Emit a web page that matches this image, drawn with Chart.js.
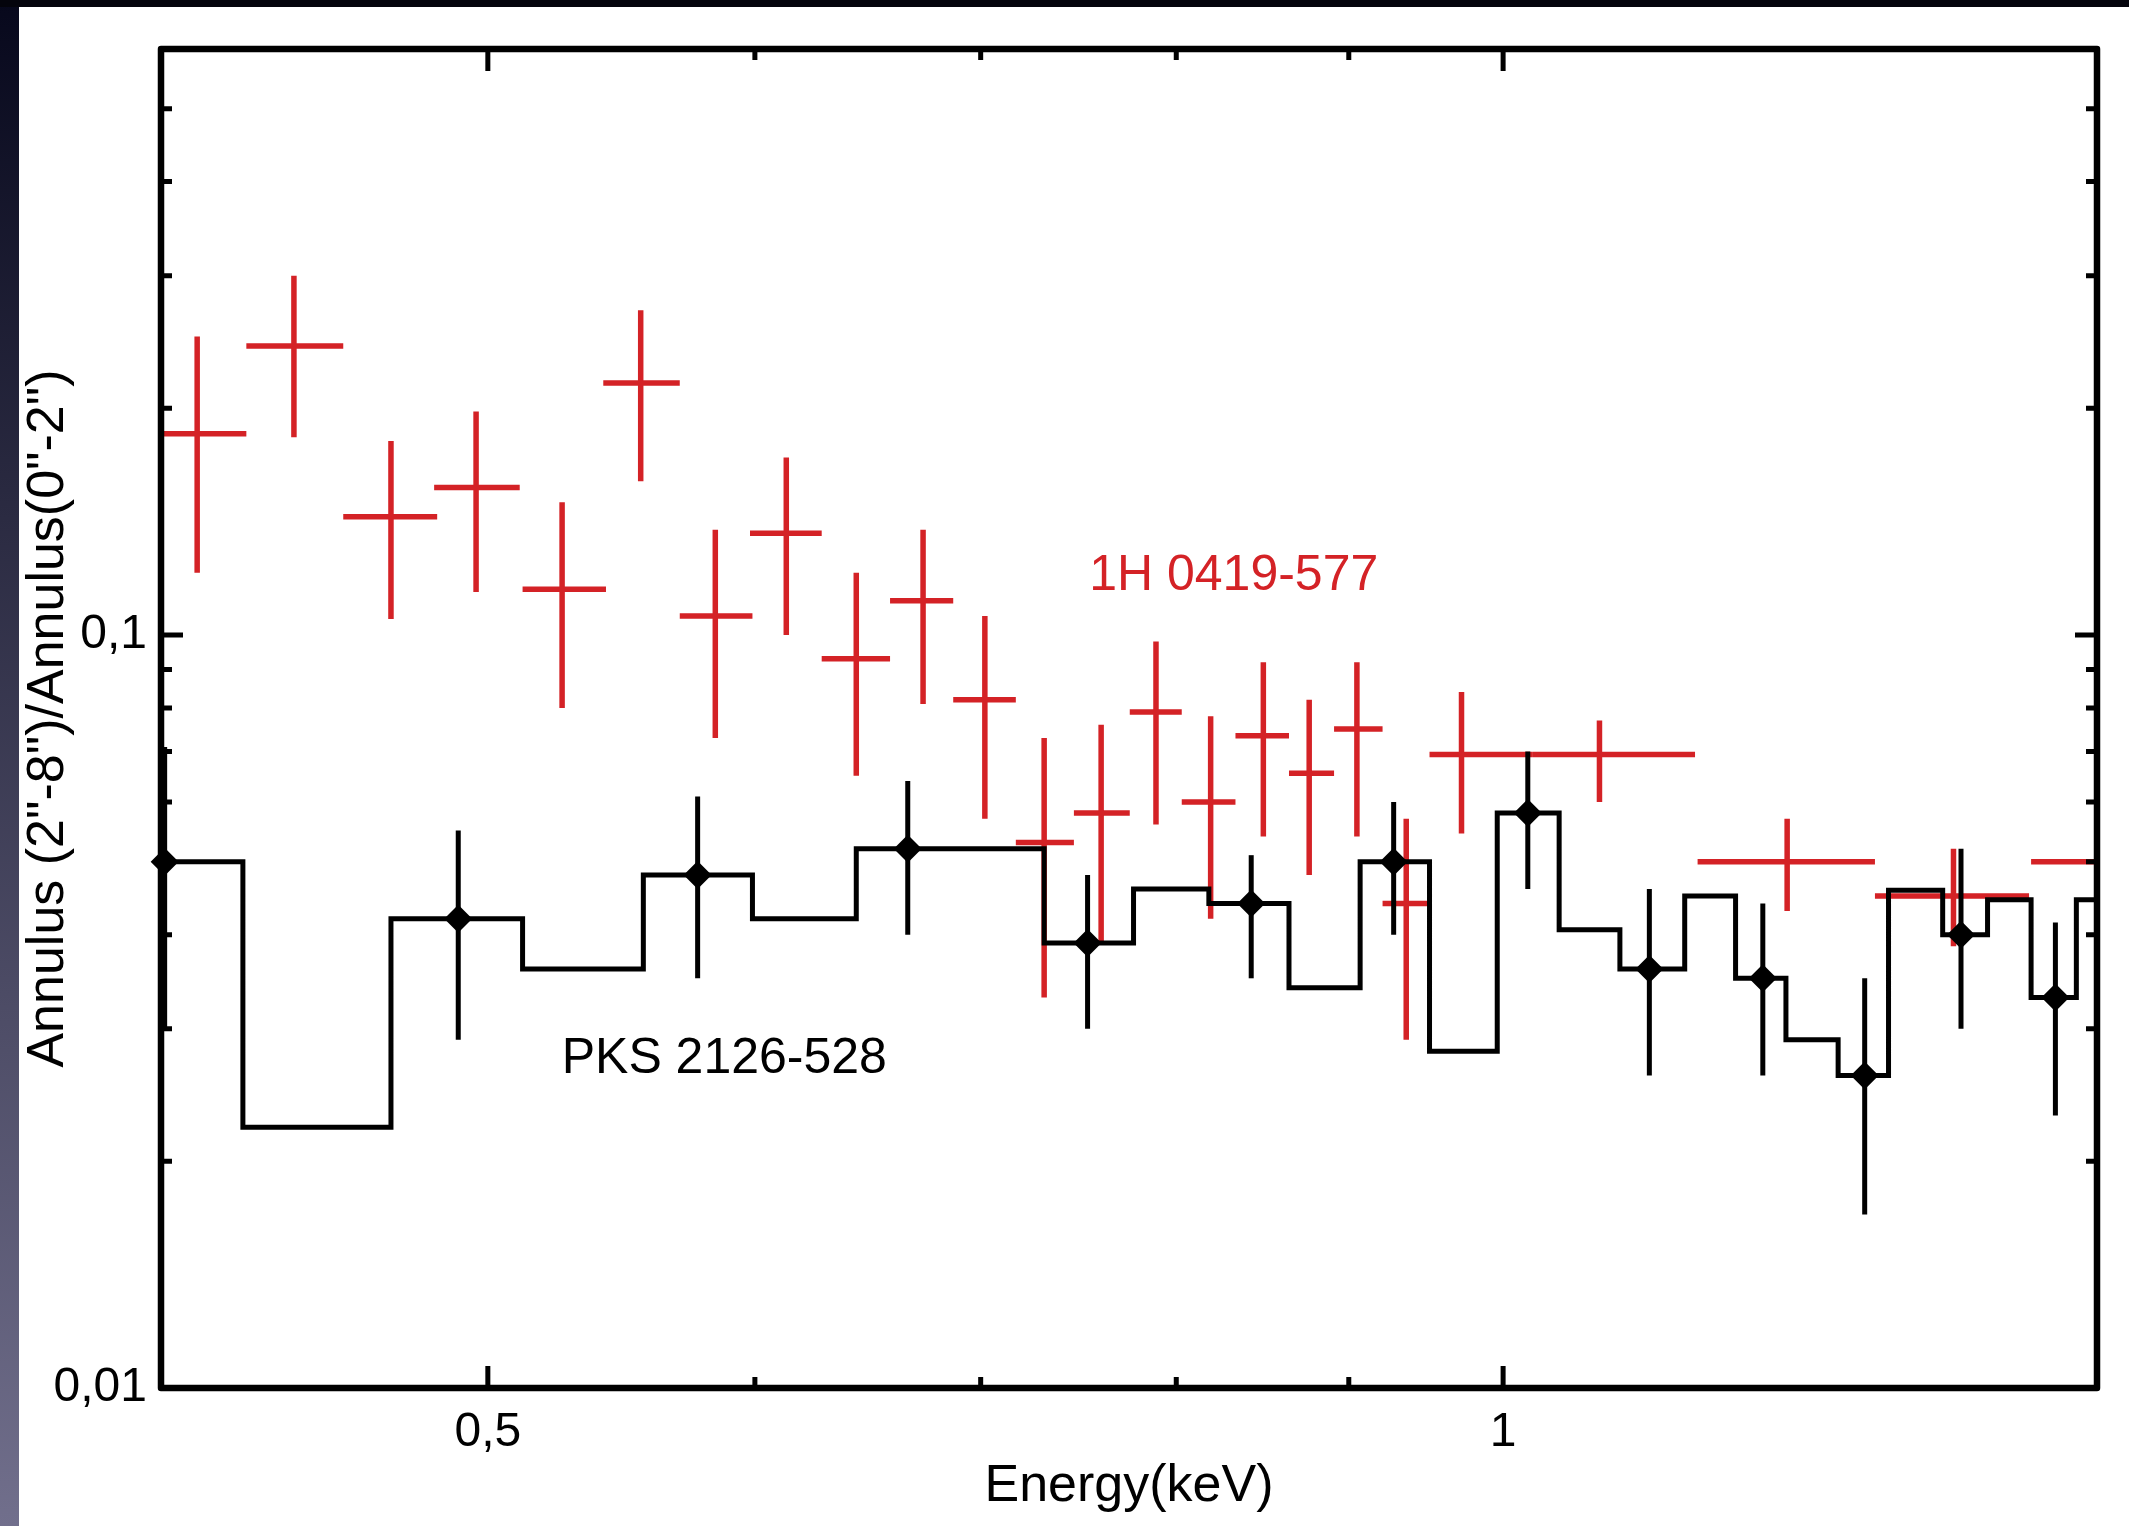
<!DOCTYPE html>
<html>
<head>
<meta charset="utf-8">
<title>Annulus ratio vs energy</title>
<script src="https://cdn.jsdelivr.net/npm/chart.js@4.4.1/dist/chart.umd.min.js"></script>
<style>
  html, body { margin: 0; padding: 0; background: #000; overflow: hidden; }
  #wrap { width: 2129px; height: 1526px; position: relative; }
</style>
</head>
<body>
<div id="wrap"><canvas id="ratioChart"></canvas></div>
<script>
// ---- 1H 0419-577 (red crosses): energy bin centre / edges, ratio and its error range
const redEnergy = [0.410, 0.438, 0.468, 0.496, 0.526, 0.555, 0.584, 0.613, 0.643, 0.673, 0.702, 0.731,
                   0.760, 0.789, 0.819, 0.849, 0.876, 0.905, 0.936, 0.972, 1.068, 1.214, 1.360, 1.510];
const redELo   = [0.400, 0.424, 0.453, 0.482, 0.512, 0.541, 0.570, 0.598, 0.628, 0.658, 0.687, 0.717,
                   0.746, 0.775, 0.803, 0.833, 0.864, 0.891, 0.921, 0.951, 1.020, 1.142, 1.289, 1.434];
const redEHi   = [0.424, 0.453, 0.483, 0.511, 0.542, 0.570, 0.599, 0.628, 0.658, 0.687, 0.717, 0.746,
                   0.775, 0.803, 0.833, 0.864, 0.891, 0.921, 0.951, 1.020, 1.140, 1.289, 1.432, 1.600];
const redRatio = [0.185, 0.242, 0.1435, 0.157, 0.115, 0.216, 0.106, 0.1365, 0.093, 0.111, 0.082, 0.053,
                  0.058, 0.079, 0.060, 0.0735, 0.0655, 0.075, 0.044, 0.0694, 0.0694, 0.050, 0.045, 0.050];
const redLo    = [0.121, 0.183, 0.105, 0.114, 0.080, 0.160, 0.073, 0.100, 0.065, 0.081, 0.057, 0.033,
                  0.039, 0.056, 0.042, 0.054, 0.048, 0.054, 0.029, 0.0545, 0.060, 0.043, 0.0386, 0.043];
const redHi    = [0.249, 0.300, 0.181, 0.198, 0.150, 0.270, 0.138, 0.172, 0.121, 0.138, 0.106, 0.073,
                  0.076, 0.098, 0.078, 0.092, 0.082, 0.092, 0.057, 0.084, 0.077, 0.057, 0.052, 0.057];

// ---- PKS 2126-528 (black diamonds)
const blackEnergy = [0.401, 0.490, 0.577, 0.666, 0.753, 0.842, 0.928, 1.017, 1.105, 1.194, 1.280, 1.367, 1.458];
const blackRatio  = [0.050, 0.042, 0.048, 0.052, 0.039, 0.044, 0.050, 0.058, 0.036, 0.035, 0.026, 0.040, 0.033];
const blackLo     = [0.030, 0.029, 0.035, 0.040, 0.030, 0.035, 0.040, 0.046, 0.026, 0.026, 0.017, 0.030, 0.023];
const blackHi     = [0.071, 0.055, 0.061, 0.064, 0.048, 0.051, 0.060, 0.070, 0.046, 0.044, 0.035, 0.052, 0.0415];

// ---- black histogram (bin edges, one value per bin)
const stepEdges  = [0.400, 0.423, 0.468, 0.512, 0.556, 0.599, 0.643, 0.731, 0.777, 0.818, 0.864, 0.907, 0.951,
                    0.996, 1.039, 1.083, 1.132, 1.172, 1.213, 1.257, 1.301, 1.350, 1.392, 1.434, 1.479, 1.500];
const stepValues = [0.050, 0.0222, 0.042, 0.036, 0.048, 0.042, 0.052, 0.039, 0.046, 0.044, 0.034, 0.050,
                    0.028, 0.058, 0.0406, 0.036, 0.045, 0.035, 0.029, 0.026, 0.0458, 0.040, 0.0445, 0.033, 0.0445];

// ---- axes
const xTickValues = [0.5, 1];
const xTickLabels = ['0,5', '1'];
const xMinorTicks = [0.6, 0.7, 0.8, 0.9];
const yTickValues = [0.01, 0.1];
const yTickLabels = ['0,01', '0,1'];
const yMinorTicks = [0.02, 0.03, 0.04, 0.05, 0.06, 0.07, 0.08, 0.09, 0.2, 0.3, 0.4, 0.5];

const RED = 'rgb(212, 34, 38)';
const FONT = '"Liberation Sans", Arial, Helvetica, sans-serif';

const stepData = stepValues.map((v, i) => ({ x: stepEdges[i], y: v }));
stepData.push({ x: stepEdges[stepEdges.length - 1], y: stepValues[stepValues.length - 1] });

// slide background: black band on top, bluish strip on the left, white page
const slideBg = {
  id: 'slideBg',
  beforeDraw(chart) {
    const { ctx, width, height } = chart;
    ctx.save();
    ctx.fillStyle = '#fff';
    ctx.fillRect(0, 0, width, height);
    const g = ctx.createLinearGradient(0, 0, 0, height);
    g.addColorStop(0, '#07081c');
    g.addColorStop(1, '#716f8c');
    ctx.fillStyle = g;
    ctx.fillRect(0, 0, 19, height);
    ctx.fillStyle = '#04040c';
    ctx.fillRect(0, 0, width, 7);
    ctx.restore();
  }
};

// error bars
const errorBars = {
  id: 'errorBars',
  beforeDatasetsDraw(chart) {
    const { ctx, chartArea: a, scales: { x, y } } = chart;
    ctx.save();
    ctx.beginPath();
    ctx.rect(a.left, a.top, a.width, a.height);
    ctx.clip();
    ctx.strokeStyle = RED;
    ctx.lineWidth = 5.5;
    ctx.lineCap = 'butt';
    redEnergy.forEach((e, i) => {
      const px = x.getPixelForValue(e);
      const py = y.getPixelForValue(redRatio[i]);
      ctx.beginPath();
      ctx.moveTo(x.getPixelForValue(redELo[i]), py);
      ctx.lineTo(x.getPixelForValue(redEHi[i]), py);
      ctx.moveTo(px, y.getPixelForValue(redLo[i]));
      ctx.lineTo(px, y.getPixelForValue(redHi[i]));
      ctx.stroke();
    });
    ctx.restore();
  },
  afterDatasetsDraw(chart) {
    const { ctx, scales: { x, y } } = chart;
    ctx.save();
    ctx.strokeStyle = '#000';
    ctx.lineWidth = 5;
    blackEnergy.forEach((e, i) => {
      const px = x.getPixelForValue(e);
      ctx.beginPath();
      ctx.moveTo(px, y.getPixelForValue(blackLo[i]));
      ctx.lineTo(px, y.getPixelForValue(blackHi[i]));
      ctx.stroke();
    });
    ctx.restore();
  }
};

// box frame with inward ticks on all four sides, plus the source labels
const frameTicks = {
  id: 'frameTicks',
  afterDraw(chart) {
    const { ctx, chartArea: a, scales: { x, y } } = chart;
    ctx.save();
    ctx.strokeStyle = '#000';
    ctx.lineWidth = 5;
    const xt = (vals, len) => vals.forEach(v => {
      const p = x.getPixelForValue(v);
      ctx.beginPath();
      ctx.moveTo(p, a.bottom); ctx.lineTo(p, a.bottom - len);
      ctx.moveTo(p, a.top); ctx.lineTo(p, a.top + len);
      ctx.stroke();
    });
    const yt = (vals, len) => vals.forEach(v => {
      const p = y.getPixelForValue(v);
      ctx.beginPath();
      ctx.moveTo(a.left, p); ctx.lineTo(a.left + len, p);
      ctx.moveTo(a.right, p); ctx.lineTo(a.right - len, p);
      ctx.stroke();
    });
    xt(xTickValues, 22); xt(xMinorTicks, 11);
    yt(yTickValues, 22); yt(yMinorTicks, 11);
    ctx.lineWidth = 6.5;
    ctx.lineJoin = 'round';
    ctx.strokeRect(a.left, a.top, a.width, a.height);

    ctx.font = '50px ' + FONT;
    ctx.textAlign = 'center';
    ctx.textBaseline = 'middle';
    ctx.fillStyle = RED;
    ctx.fillText('1H 0419-577', x.getPixelForValue(0.832), y.getPixelForValue(0.1196));
    ctx.fillStyle = '#000';
    ctx.fillText('PKS 2126-528', x.getPixelForValue(0.5876), y.getPixelForValue(0.02737));
    ctx.restore();
  }
};

const ctx = document.getElementById('ratioChart').getContext('2d');
const ratioChart = new Chart(ctx, {
  type: 'scatter',
  data: {
    datasets: [
      {
        label: '1H 0419-577',
        data: redEnergy.map((e, i) => ({ x: e, y: redRatio[i] })),
        pointRadius: 0,
        borderColor: RED,
        backgroundColor: RED
      },
      {
        type: 'line',
        label: 'PKS 2126-528 model',
        data: stepData,
        stepped: true,
        borderColor: '#000',
        borderWidth: 5,
        pointRadius: 0,
        fill: false
      },
      {
        label: 'PKS 2126-528',
        data: blackEnergy.map((e, i) => ({ x: e, y: blackRatio[i] })),
        pointStyle: 'rectRot',
        pointRadius: 14,
        borderWidth: 0,
        backgroundColor: '#000',
        borderColor: '#000',
        clip: false
      }
    ]
  },
  options: {
    responsive: true,
    maintainAspectRatio: false,
    animation: false,
    layout: { padding: { top: 49, right: 32, left: 0, bottom: 0 } },
    plugins: {
      legend: { display: false },
      tooltip: { enabled: false },
      title: { display: false }
    },
    scales: {
      x: {
        type: 'logarithmic',
        min: 0.4,
        max: 1.5,
        afterBuildTicks: s => { s.ticks = xTickValues.map(v => ({ value: v })); },
        afterFit: s => { s.height = 138; },
        grid: { display: false, drawTicks: false },
        border: { display: false },
        ticks: {
          autoSkip: false,
          maxRotation: 0,
          padding: 16,
          color: '#000',
          font: { family: FONT, size: 48 },
          callback: (v, i) => xTickLabels[i]
        },
        title: {
          display: true,
          text: 'Energy(keV)',
          color: '#000',
          font: { family: FONT, size: 52 },
          padding: { top: 0, bottom: 8 }
        }
      },
      y: {
        type: 'logarithmic',
        min: 0.01,
        max: 0.6,
        afterBuildTicks: s => { s.ticks = yTickValues.map(v => ({ value: v })); },
        afterFit: s => { s.width = 161; },
        grid: { display: false, drawTicks: false },
        border: { display: false },
        ticks: {
          autoSkip: false,
          padding: 14,
          color: '#000',
          font: { family: FONT, size: 48 },
          callback: (v, i) => yTickLabels[i]
        },
        title: {
          display: true,
          text: 'Annulus (2"-8")/Annulus(0"-2")',
          color: '#000',
          font: { family: FONT, size: 52 },
          padding: { top: 17, bottom: 0 }
        }
      }
    }
  },
  plugins: [slideBg, errorBars, frameTicks]
});
</script>
</body>
</html>
